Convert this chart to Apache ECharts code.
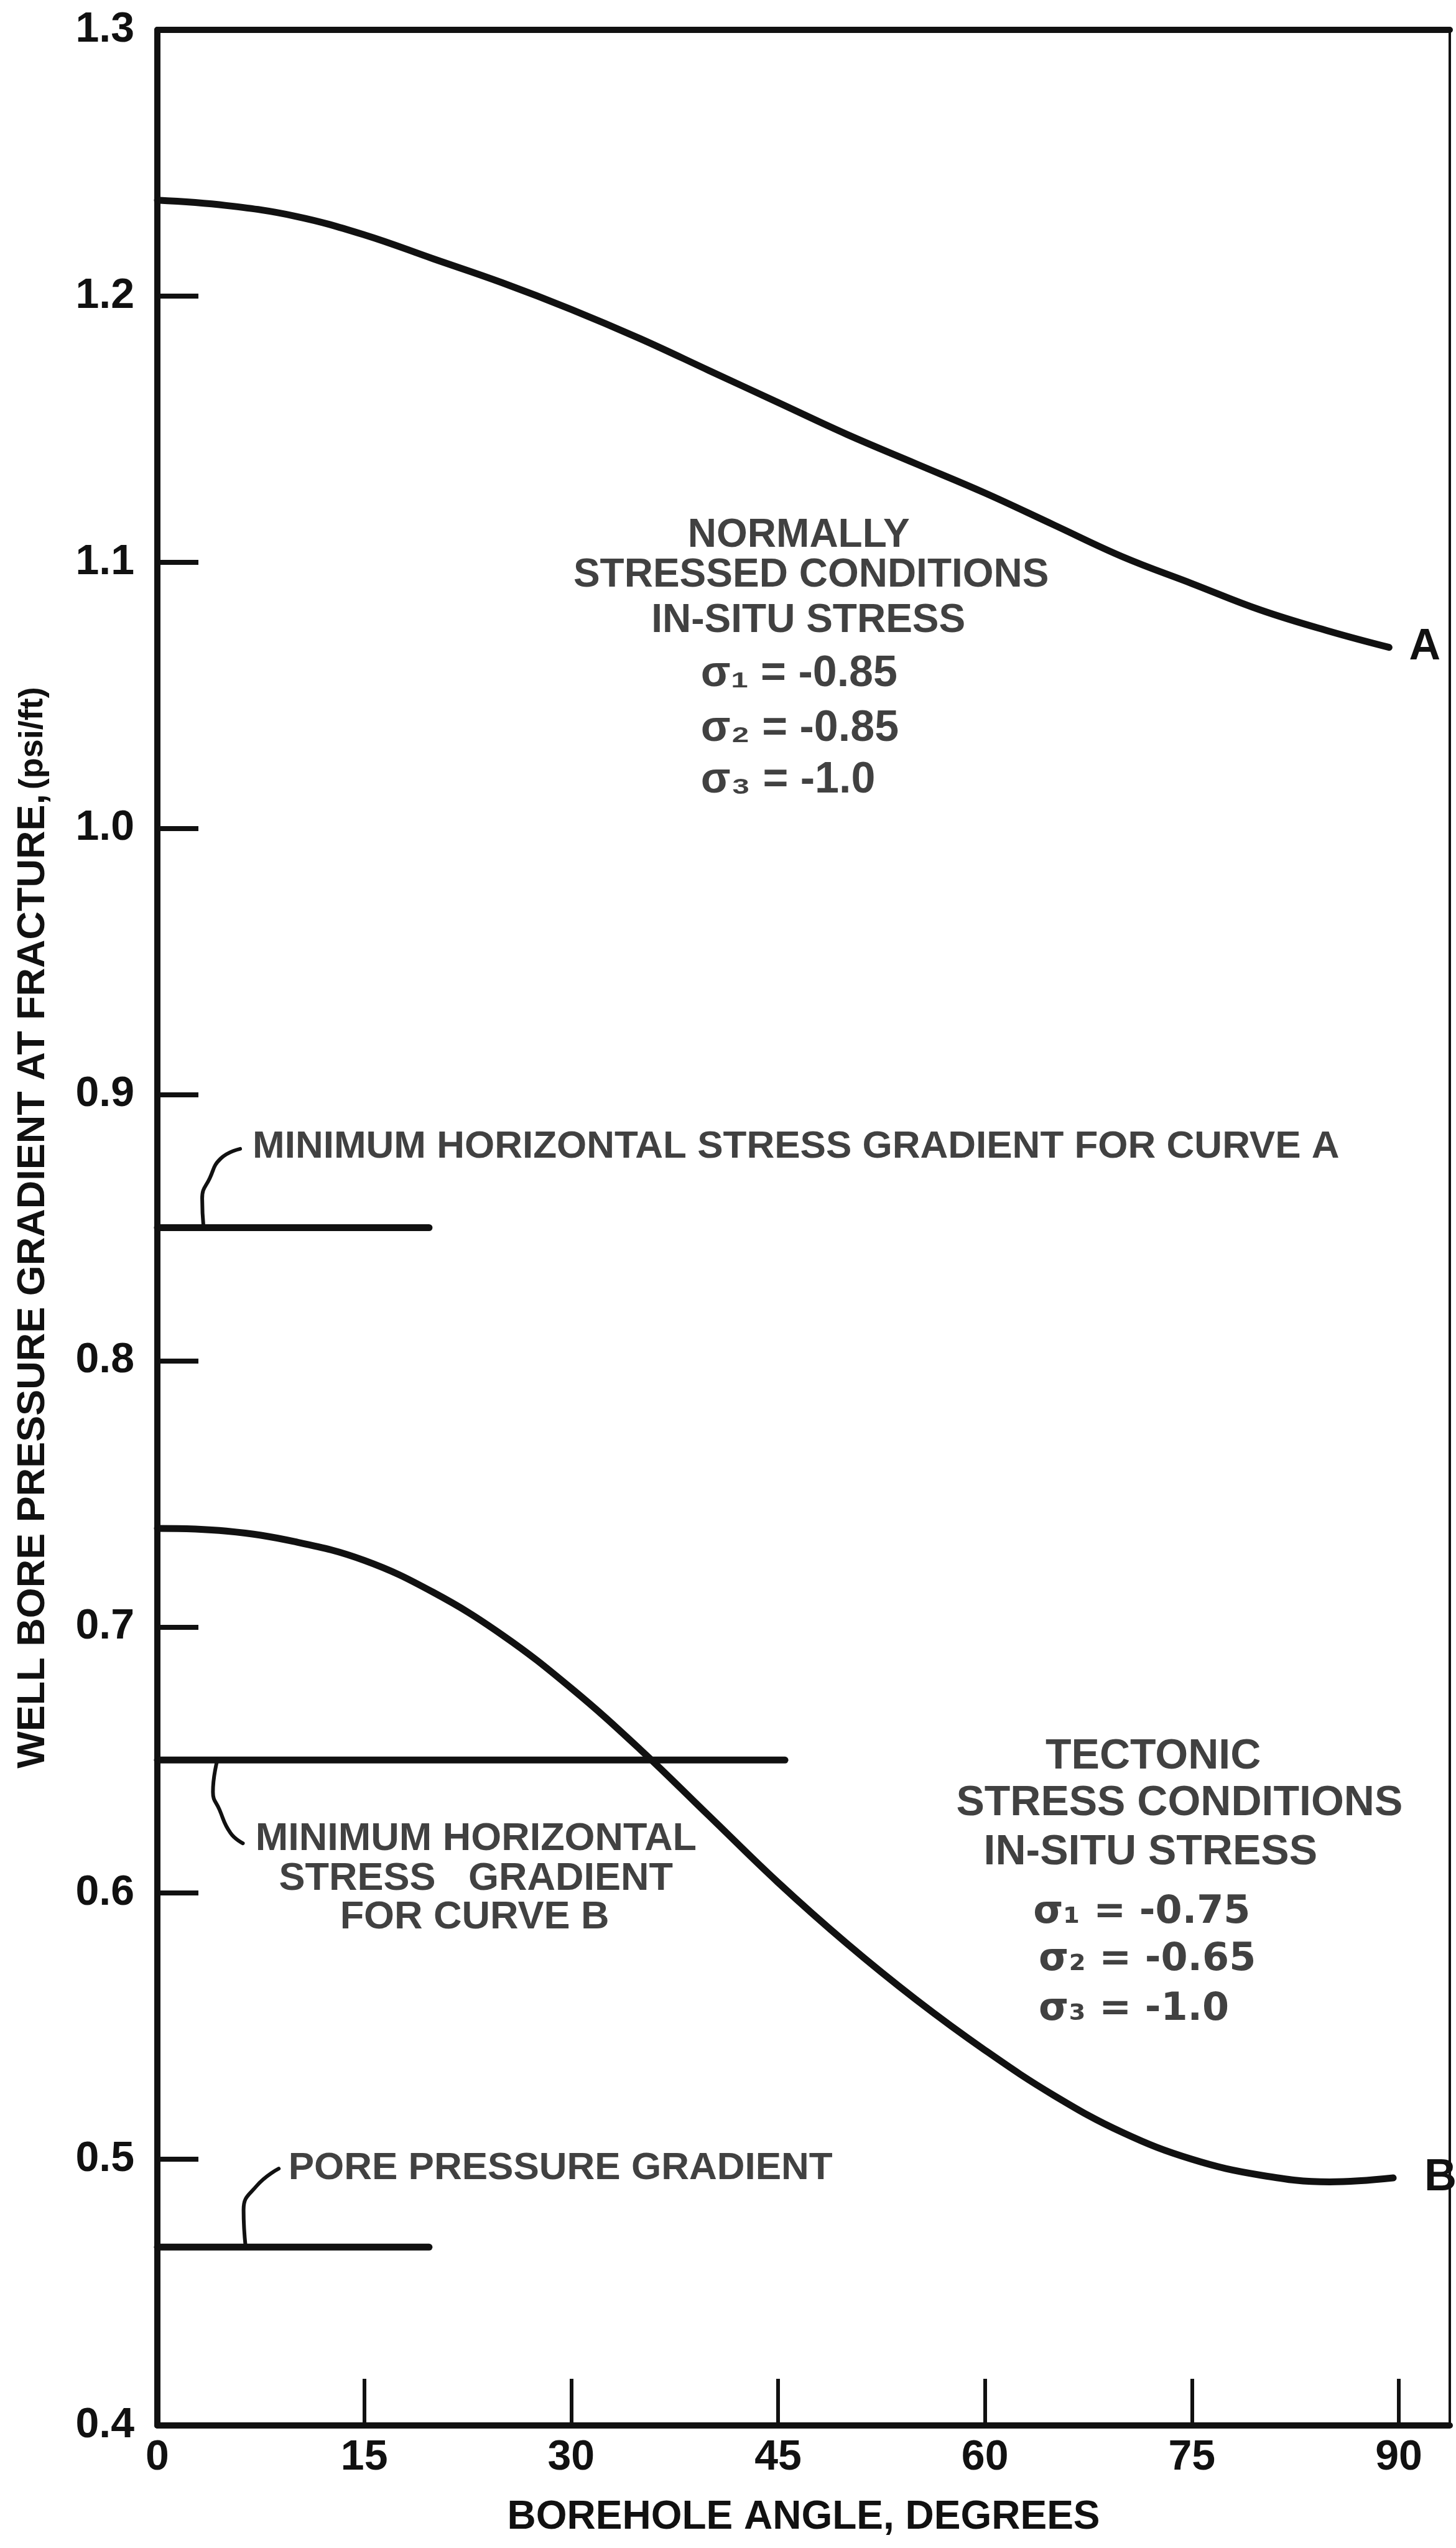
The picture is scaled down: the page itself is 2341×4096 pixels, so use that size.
<!DOCTYPE html>
<html><head><meta charset="utf-8">
<script src="https://cdn.jsdelivr.net/npm/echarts@6/dist/echarts.min.js"></script>
<style>html,body{margin:0;padding:0;background:#fff}#c{width:2341px;height:4096px}</style>
</head><body><div id="c"></div>
<script>
// ---- data ----
const anglesA = [0, 5, 10, 15, 20, 25, 30, 35, 40, 45, 50, 55, 60, 65, 70, 75, 80, 85, 89.3];
const curveA  = [1.236, 1.234, 1.230, 1.223, 1.214, 1.205, 1.195, 1.184, 1.172, 1.160, 1.148, 1.137, 1.126, 1.114, 1.102, 1.092, 1.082, 1.074, 1.068];
const anglesB = [0, 5, 10, 15, 20, 25, 30, 35, 40, 45, 50, 55, 60, 65, 70, 75, 80, 85, 89.6];
const curveB  = [0.737, 0.736, 0.732, 0.725, 0.713, 0.697, 0.677, 0.654, 0.629, 0.604, 0.581, 0.560, 0.541, 0.524, 0.510, 0.500, 0.494, 0.4915, 0.493];
const minHorizA = [[0, 0.85], [19.7, 0.85]];
const minHorizB = [[0, 0.65], [45.5, 0.65]];
const porePressure = [[0, 0.467], [19.7, 0.467]];
const hookA = [[3.35, 0.85], [3.25, 0.861], [3.8, 0.8686], [4.6, 0.876], [6.0, 0.8796]];
const hookB = [[4.35, 0.65], [4.03, 0.638], [4.5, 0.6314], [5.3, 0.6226], [6.2, 0.6187]];
const hookPore = [[6.4, 0.467], [6.25, 0.481], [7.2, 0.490], [8.8, 0.4965]];
const xTickLabels = [0, 15, 30, 45, 60, 75, 90];
const xTickMarks = [15, 30, 45, 60, 75, 90];
const yTickLabels = [0.4, 0.5, 0.6, 0.7, 0.8, 0.9, 1.0, 1.1, 1.2, 1.3];
const yTickMarks = [0.5, 0.6, 0.7, 0.8, 0.9, 1.0, 1.1, 1.2];

// ---- annotation layout: text, anchor (angle, value), alignment, font size, family ----
const FONT = "'Liberation Sans', Arial, sans-serif";
const WIDE = "'DejaVu Sans', 'Liberation Sans', sans-serif";
const annotations = [
  ['MINIMUM HORIZONTAL STRESS GRADIENT FOR CURVE A', 6.9, 0.8804, 'left', 62, FONT],
  ['MINIMUM HORIZONTAL', 23.1, 0.6202, 'center', 63, FONT],
  ['STRESS   GRADIENT', 23.1, 0.6053, 'center', 63, FONT],
  ['FOR CURVE B', 23.0, 0.5908, 'center', 63, FONT],
  ['PORE PRESSURE GRADIENT', 9.5, 0.4965, 'left', 62, FONT],
  ['NORMALLY', 46.5, 1.110, 'center', 64, FONT],
  ['STRESSED CONDITIONS', 47.4, 1.095, 'center', 64, FONT],
  ['IN-SITU STRESS', 47.2, 1.078, 'center', 64, FONT],
  ['\u03C3\u2081 = -0.85', 39.4, 1.058, 'left', 70, FONT],
  ['\u03C3\u2082 = -0.85', 39.4, 1.0375, 'left', 70, FONT],
  ['\u03C3\u2083 = -1.0', 39.4, 1.018, 'left', 70, FONT],
  ['TECTONIC', 72.2, 0.6511, 'center', 68, FONT],
  ['STRESS CONDITIONS', 74.1, 0.6337, 'center', 68, FONT],
  ['IN-SITU STRESS', 72.0, 0.6152, 'center', 68, FONT],
  ['\u03C3\u2081 = -0.75', 63.5, 0.5926, 'left', 62, WIDE],
  ['\u03C3\u2082 = -0.65', 63.9, 0.5749, 'left', 62, WIDE],
  ['\u03C3\u2083 = -1.0', 63.9, 0.5562, 'left', 62, WIDE]
];

const INK = '#111';
const pairs = (xs, ys) => xs.map((x, i) => [x, ys[i]]);

function lineSeries(data, width, extra) {
  return Object.assign({
    type: 'line', data: data, symbol: 'none', silent: true, clip: false,
    lineStyle: { color: INK, width: width, cap: 'round', join: 'round' }
  }, extra || {});
}

const chart = echarts.init(document.getElementById('c'), null, { renderer: 'canvas' });
chart.setOption({
  animation: false,
  backgroundColor: '#ffffff',
  grid: { left: 253, right: 10, top: 48, bottom: 197, containLabel: false },
  xAxis: [{
    type: 'value', min: 0, max: 93.7, interval: 15, position: 'bottom',
    axisLine: { show: true, onZero: false, lineStyle: { color: INK, width: 10 } },
    axisTick: { show: true, inside: true, length: 75, customValues: xTickMarks, lineStyle: { color: INK, width: 6 } },
    axisLabel: { show: true, customValues: xTickLabels, margin: 18, fontFamily: FONT, fontWeight: 'bold', fontSize: 68, color: INK },
    splitLine: { show: false },
    name: 'BOREHOLE ANGLE, DEGREES', nameLocation: 'middle', nameGap: 116,
    nameTextStyle: { fontFamily: FONT, fontWeight: 'bold', fontSize: 64, color: INK }
  }, {
    type: 'value', min: 0, max: 93.7, position: 'top',
    axisLine: { show: true, onZero: false, lineStyle: { color: INK, width: 10 } },
    axisTick: { show: false }, axisLabel: { show: false }, splitLine: { show: false }
  }],
  yAxis: [{
    type: 'value', min: 0.4, max: 1.3, interval: 0.1, position: 'left',
    axisLine: { show: true, onZero: false, lineStyle: { color: INK, width: 10 } },
    axisTick: { show: true, inside: true, length: 66, customValues: yTickMarks, lineStyle: { color: INK, width: 8 } },
    axisLabel: { show: true, customValues: yTickLabels, margin: 37, fontFamily: FONT, fontWeight: 'bold', fontSize: 68, color: INK,
      formatter: v => v.toFixed(1) },
    splitLine: { show: false },
    name: '{a|WELL BORE PRESSURE GRADIENT AT FRACTURE,}  {b|(psi/ft)}',
    nameLocation: 'middle', nameRotate: 90, nameGap: 168,
    nameTextStyle: { rich: {
      a: { fontFamily: FONT, fontWeight: 'bold', fontSize: 63, color: INK },
      b: { fontFamily: FONT, fontWeight: 'bold', fontSize: 54, color: INK }
    } }
  }, {
    type: 'value', min: 0.4, max: 1.3, position: 'right',
    axisLine: { show: true, onZero: false, lineStyle: { color: INK, width: 4 } },
    axisTick: { show: false }, axisLabel: { show: false }, splitLine: { show: false }
  }],
  series: [
    lineSeries(pairs(anglesA, curveA), 11, { smooth: 0.4,
      endLabel: { show: true, formatter: 'A', distance: 32, fontFamily: FONT, fontWeight: 'bold', fontSize: 70, color: INK } }),
    lineSeries(pairs(anglesB, curveB), 11, { smooth: 0.4,
      endLabel: { show: true, formatter: 'B', distance: 50, fontFamily: FONT, fontWeight: 'bold', fontSize: 72, color: INK } }),
    lineSeries(minHorizA, 11),
    lineSeries(minHorizB, 11),
    lineSeries(porePressure, 11),
    lineSeries(hookA, 6, { smooth: 0.5 }),
    lineSeries(hookB, 6, { smooth: 0.5 }),
    lineSeries(hookPore, 6, { smooth: 0.5 }),
    {
      type: 'scatter', silent: true, clip: false, symbolSize: 1, z: 5,
      itemStyle: { color: 'rgba(0,0,0,0)' },
      data: annotations.map(a => ({
        value: [a[1], a[2]],
        label: { show: true, position: 'inside', formatter: a[0], align: a[3], verticalAlign: 'middle',
          fontFamily: a[5], fontWeight: 'bold', fontSize: a[4], color: INK }
      }))
    }
  ]
});
</script>
</body></html>
